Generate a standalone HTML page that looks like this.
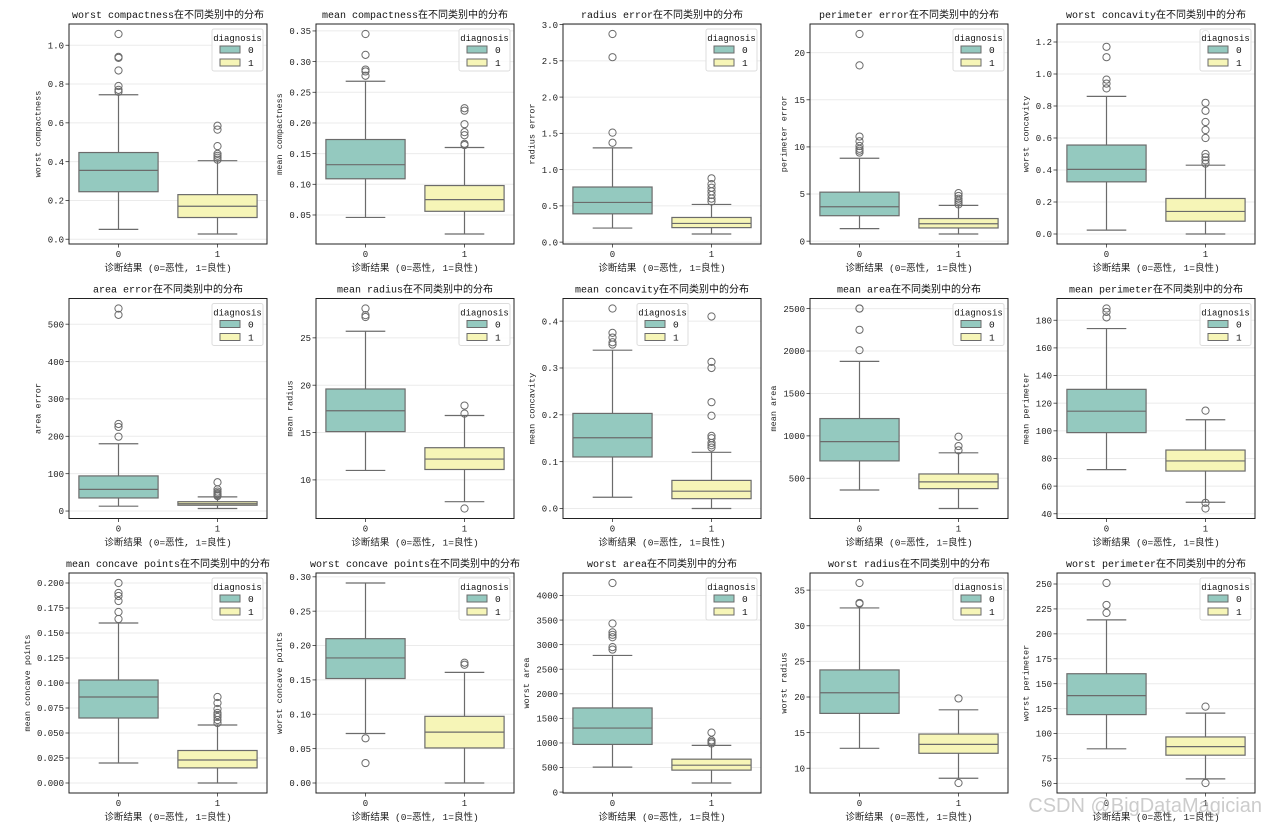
<!DOCTYPE html>
<html><head><meta charset="utf-8">
<style>
html,body{margin:0;padding:0;background:#fff;}
svg{display:block;font-family:"Liberation Mono","WenQuanYi Zen Hei","Noto Sans CJK SC",monospace;}
</style></head>
<body>
<svg id="fig" width="1264" height="828" viewBox="0 0 1264 828"></svg>
<script>
// ---- data (per panel) ----
const featureNames = ["worst compactness","mean compactness","radius error","perimeter error","worst concavity",
 "area error","mean radius","mean concavity","mean area","mean perimeter",
 "mean concave points","worst concave points","worst area","worst radius","worst perimeter"];
// [q1, median, q3, whiskerLow, whiskerHigh] for diagnosis 0
const stats0 = [
 [0.245,0.355,0.447,0.051,0.745],[0.109,0.132,0.173,0.046,0.268],[0.39,0.547,0.76,0.194,1.3],[2.7,3.65,5.2,1.33,8.8],[0.326,0.404,0.556,0.024,0.86],
 [35,58,94,13,180],[15.1,17.3,19.6,11,25.7],[0.11,0.151,0.203,0.024,0.338],[705,932,1204,362,1878],[98.7,114.2,130,71.9,174],
 [0.065,0.086,0.103,0.02,0.16],[0.152,0.182,0.21,0.072,0.291],[970,1303,1712,508,2780],[17.7,20.6,23.8,12.8,32.5],[119,138,160,84.7,214]];
// diagnosis 1
const stats1 = [
 [0.112,0.17,0.23,0.027,0.405],[0.056,0.075,0.098,0.019,0.16],[0.2,0.258,0.34,0.112,0.52],[1.4,1.85,2.4,0.76,3.8],[0.08,0.141,0.222,0,0.43],
 [15.5,19.6,25,6.8,38],[11.1,12.2,13.4,7.7,16.8],[0.021,0.037,0.06,0,0.12],[378,458,551,144,800],[70.9,78.2,86.1,48.3,108],
 [0.0151,0.023,0.0325,0,0.058],[0.051,0.074,0.097,0,0.161],[447,547,670,185,950],[12.1,13.35,14.8,8.6,18.2],[78.3,86.9,96.6,54.5,120.5]];
const outliers0 = [
 [0.76,0.77,0.79,0.87,0.935,0.94,1.058],[0.277,0.284,0.287,0.311,0.345],[1.37,1.51,2.55,2.87],[9.4,9.6,9.8,10.1,10.6,11.1,18.65,21.98],[0.91,0.94,0.965,1.105,1.17],
 [199,225,233,525,542],[27.2,27.4,28.1],[0.35,0.355,0.365,0.375,0.427],[2010,2250,2500,2501],[182.1,186,188.5],
 [0.164,0.171,0.182,0.187,0.19,0.2],[0.065,0.029],[2900,2950,3150,3200,3250,3430,4254],[33.1,33.2,36.0],[221,229,251]];
const outliers1 = [
 [0.41,0.42,0.43,0.44,0.48,0.565,0.585],[0.164,0.166,0.18,0.185,0.198,0.22,0.224],[0.56,0.6,0.65,0.7,0.75,0.8,0.88],[3.9,4.1,4.3,4.5,4.8,5.1],[0.44,0.46,0.48,0.5,0.6,0.65,0.7,0.77,0.82,1.25],
 [40,42,45,48,52,58,77],[6.98,17.0,17.85],[0.13,0.135,0.14,0.15,0.155,0.198,0.227,0.3,0.313,0.41],[830,880,990],[114.6,47.9,43.8],
 [0.06,0.063,0.066,0.068,0.07,0.074,0.08,0.086],[0.172,0.175],[990,1020,1050,1210],[19.8,7.93],[127,50.4]];
const tickLabels = [
 ["0.0","0.2","0.4","0.6","0.8","1.0"],["0.05","0.10","0.15","0.20","0.25","0.30","0.35"],["0.0","0.5","1.0","1.5","2.0","2.5","3.0"],["0","5","10","15","20"],["0.0","0.2","0.4","0.6","0.8","1.0","1.2"],
 ["0","100","200","300","400","500"],["10","15","20","25"],["0.0","0.1","0.2","0.3","0.4"],["500","1000","1500","2000","2500"],["40","60","80","100","120","140","160","180"],
 ["0.000","0.025","0.050","0.075","0.100","0.125","0.150","0.175","0.200"],["0.00","0.05","0.10","0.15","0.20","0.25","0.30"],["0","500","1000","1500","2000","2500","3000","3500","4000"],["10","15","20","25","30","35"],["50","75","100","125","150","175","200","225","250"]];
const categories = ["0","1"];
const legendCenter = [false,false,false,false,false,false,false,true,false,false,false,false,false,false,false];

const NS="http://www.w3.org/2000/svg";
const svg=document.getElementById('fig');
function mk(tag,attrs,parent){const e=document.createElementNS(NS,tag);for(const k in attrs)e.setAttribute(k,attrs[k]);(parent||svg).appendChild(e);return e;}
const colLeft=[69,316,563,810,1057], AW=198, rowTop=[24,298.5,573], AH=220;
const fills=["#94c9bf","#f6f5b7"], lc="#6b6b6b";
const TF=9; // tick font size

featureNames.forEach((name,i)=>{
  const L=colLeft[i%5], T=rowTop[Math.floor(i/5)], R=L+AW, B=T+AH;
  const g=mk('g',{});
  
  
  const all=[...stats0[i],...stats1[i],...outliers0[i],...outliers1[i]];
  let mn=Math.min(...all), mx=Math.max(...all), rg=mx-mn;
  const lo=mn-0.05*rg, hi=mx+0.05*rg;
  const y=v=>B-(v-lo)/(hi-lo)*AH;
  const x=c=>L+AW*(c+0.5)/2;
  let maxLen=0;
  tickLabels[i].forEach(t=>{
    maxLen=Math.max(maxLen,t.length);
    const v=parseFloat(t), yy=y(v);
    const gl=mk('line',{x1:L,x2:R,y1:yy,y2:yy,stroke:"#ebebeb","stroke-width":1},g);
    
    
    mk('line',{x1:L-3.5,x2:L,y1:yy,y2:yy,stroke:"#333","stroke-width":0.8},g);
    const tx=mk('text',{x:L-5,y:yy+3.2,"font-size":TF,"text-anchor":"end",fill:"#222"},g);
    tx.textContent=t;
    
    
  });
  [stats0[i],stats1[i]].forEach((s,c)=>{
    const cx=x(c), hw=AW/2*0.8/2;
    const [q1,md,q3,wl,wh]=s;
    mk('line',{x1:cx,x2:cx,y1:y(q3),y2:y(wh),stroke:lc,"stroke-width":1.2},g);
    mk('line',{x1:cx,x2:cx,y1:y(q1),y2:y(wl),stroke:lc,"stroke-width":1.2},g);
    mk('line',{x1:cx-hw/2,x2:cx+hw/2,y1:y(wh),y2:y(wh),stroke:lc,"stroke-width":1.2},g);
    mk('line',{x1:cx-hw/2,x2:cx+hw/2,y1:y(wl),y2:y(wl),stroke:lc,"stroke-width":1.2},g);
    const bx=mk('rect',{x:cx-hw,y:y(q3),width:2*hw,height:y(q1)-y(q3),fill:fills[c],stroke:lc,"stroke-width":1.2},g);
    
    
    mk('line',{x1:cx-hw,x2:cx+hw,y1:y(md),y2:y(md),stroke:lc,"stroke-width":1.2},g);
    (c?outliers1:outliers0)[i].forEach(o=>{
      const p=mk('circle',{cx:cx,cy:y(o),r:3.6,fill:"none",stroke:lc,"stroke-width":1},g);
      
      
    });
    mk('line',{x1:cx,x2:cx,y1:B,y2:B+3.5,stroke:"#333","stroke-width":0.8},g);
    const xt=mk('text',{x:cx,y:B+13,"font-size":TF,"text-anchor":"middle",fill:"#222"},g);
    xt.textContent=categories[c];
    
    
  });
  mk('rect',{x:L,y:T,width:AW,height:AH,fill:"none",stroke:"#222","stroke-width":1},g);
  const tt=mk('text',{x:L+AW/2,y:T-6,"font-size":10,"text-anchor":"middle",fill:"#111"},g);
  tt.textContent=name+"在不同类别中的分布";
  
  
  const ylx=L-5-maxLen*5.2-8;
  const yl=mk('text',{x:0,y:0,"font-size":8.5,"text-anchor":"middle",fill:"#222",transform:`translate(${ylx},${T+AH/2}) rotate(-90)`},g);
  yl.textContent=name;
  
  
  const xl=mk('text',{x:L+AW/2,y:B+27,"font-size":9.5,"text-anchor":"middle",fill:"#222"},g);
  xl.textContent="诊断结果 (0=恶性, 1=良性)";
  
  
  const lx=legendCenter[i]?L+AW/2-25:R-55, ly=T+5;
  const lg=mk('g',{},g);
  
  
  mk('rect',{x:lx,y:ly,width:51,height:42,rx:2,fill:"#fff","fill-opacity":0.85,stroke:"#ddd","stroke-width":1},lg);
  const lt=mk('text',{x:lx+25.5,y:ly+12,"font-size":9,"text-anchor":"middle",fill:"#111"},lg);
  lt.textContent="diagnosis";
  categories.forEach((c,k)=>{
    mk('rect',{x:lx+8,y:ly+17+k*13,width:20,height:7,fill:fills[k],stroke:lc,"stroke-width":1},lg);
    const t=mk('text',{x:lx+36,y:ly+24+k*13,"font-size":9.5,fill:"#111"},lg);
    t.textContent=c;
    
    
  });
});
const wm=mk('text',{x:1262,y:812,"font-size":20,"text-anchor":"end",fill:"#aaa","fill-opacity":0.6,"font-family":"Liberation Sans, sans-serif"});
wm.textContent="CSDN @BigDataMagician";


</script>
</body></html>
